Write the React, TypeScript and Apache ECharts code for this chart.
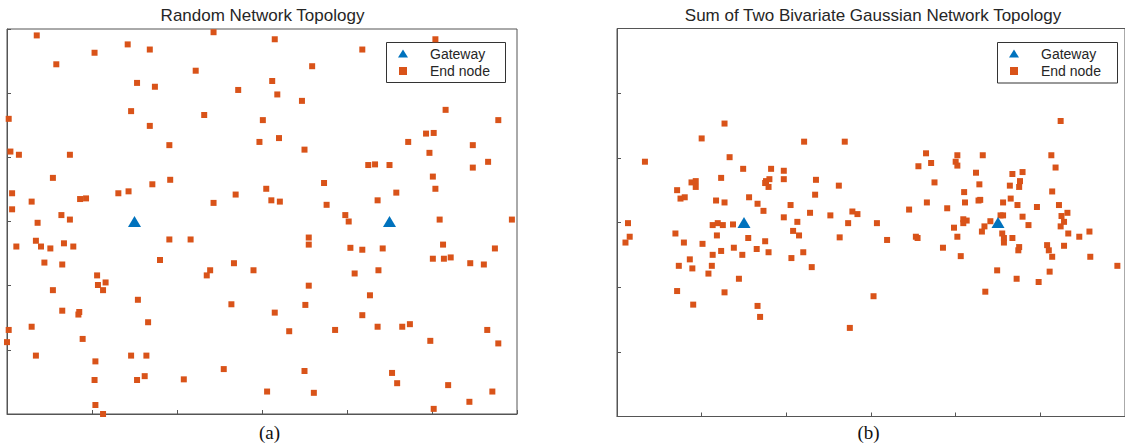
import React, { useEffect, useRef } from "react";
import * as echarts from "echarts";

const AXIS_MIN = 0;
const AXIS_MAX = 6;
const AXIS_STEP = 1;

const panelTitles = ["Random Network Topology", "Sum of Two Bivariate Gaussian Network Topology"];
const panelCaptions = ["(a)", "(b)"];
const legendNames = ["Gateway", "End node"];

const randomGateways = [[1.5, 3], [4.5, 3]];
const randomEndNodes = [
  [0.35, 5.9], [2.43, 5.95], [3.15, 5.84], [1.42, 5.76], [1.68, 5.68], [1.03, 5.63], [0.58, 5.45], [2.22, 5.35],
  [3.12, 5.19], [1.53, 5.16], [1.74, 5.1], [2.72, 5.05], [3.18, 4.98], [1.46, 4.72], [2.32, 4.66], [0.02, 4.6],
  [3.01, 4.58], [1.68, 4.49], [2.97, 4.24], [3.2, 4.3], [1.91, 4.19], [0.04, 4.09], [0.14, 4.04], [0.74, 4.04],
  [0.54, 3.68], [1.92, 3.65], [1.71, 3.58], [0.06, 3.44], [1.31, 3.44], [1.43, 3.47], [2.69, 3.42], [3.05, 3.51],
  [0.29, 3.31], [0.86, 3.35], [0.93, 3.36], [2.43, 3.29], [3.11, 3.33], [3.21, 3.31], [0.06, 3.19], [0.64, 3.1],
  [0.74, 3.03], [0.36, 2.98], [5.04, 5.84], [4.18, 5.68], [3.59, 5.42], [3.47, 4.88], [5.16, 4.74], [5.78, 4.58],
  [4.93, 4.37], [5.02, 4.38], [4.72, 4.24], [5.48, 4.19], [3.5, 4.12], [4.97, 4.07], [5.66, 3.93], [5.48, 3.84],
  [4.25, 3.88], [4.33, 3.89], [4.5, 3.88], [5.01, 3.7], [3.73, 3.6], [5.04, 3.51], [4.58, 3.45], [4.36, 3.33],
  [3.76, 3.26], [3.98, 3.1], [4.02, 3.0], [5.09, 3.03], [5.94, 3.03], [0.34, 2.7], [0.11, 2.61], [0.4, 2.61],
  [0.51, 2.58], [0.67, 2.66], [0.78, 2.61], [1.91, 2.72], [2.16, 2.72], [1.8, 2.4], [0.44, 2.36], [0.65, 2.33],
  [2.39, 2.24], [2.35, 2.16], [2.67, 2.35], [2.9, 2.24], [1.06, 2.16], [1.07, 2.01], [1.16, 2.05], [1.13, 1.93],
  [0.54, 1.93], [1.54, 1.78], [2.64, 1.71], [3.15, 1.58], [0.65, 1.61], [0.85, 1.59], [0.84, 1.55], [1.66, 1.43],
  [0.29, 1.36], [0.02, 1.31], [0.0, 1.12], [0.89, 1.17], [0.34, 0.91], [1.46, 0.91], [1.64, 0.91], [1.04, 0.82],
  [1.03, 0.53], [1.53, 0.53], [1.62, 0.59], [2.08, 0.54], [2.55, 0.7], [3.06, 0.35], [1.04, 0.14], [1.13, 0.0],
  [3.55, 2.75], [3.55, 2.64], [4.04, 2.59], [4.18, 2.56], [4.42, 2.58], [5.13, 2.64], [5.74, 2.58], [5.01, 2.42],
  [5.14, 2.42], [5.22, 2.44], [5.45, 2.35], [5.61, 2.33], [4.09, 2.19], [4.37, 2.24], [3.55, 2.0], [4.27, 1.85],
  [3.51, 1.7], [4.18, 1.54], [3.32, 1.29], [3.86, 1.31], [4.36, 1.36], [4.65, 1.36], [4.74, 1.4], [5.65, 1.31],
  [4.98, 1.14], [5.78, 1.1], [3.5, 0.67], [4.53, 0.64], [4.59, 0.48], [5.19, 0.45], [5.71, 0.35], [5.44, 0.19],
  [3.61, 0.33], [5.02, 0.08],
];

const gaussianGateways = [[1.5, 3], [4.5, 3]];
const gaussianClusterA = [
  [1.27, 4.53], [1.0, 4.3], [2.21, 4.25], [2.69, 4.25], [0.33, 3.94], [1.33, 4.01], [1.49, 3.83], [1.82, 3.83],
  [1.97, 3.8], [1.23, 3.69], [1.97, 3.67], [2.35, 3.66], [0.88, 3.62], [0.93, 3.64], [0.93, 3.55], [1.76, 3.64],
  [1.8, 3.67], [1.75, 3.61], [1.79, 3.55], [2.62, 3.57], [0.71, 3.5], [0.75, 3.37], [0.8, 3.39], [2.34, 3.43],
  [1.17, 3.34], [1.27, 3.31], [1.56, 3.39], [1.66, 3.29], [1.73, 3.18], [2.05, 3.27], [2.28, 3.15], [2.52, 3.11],
  [2.78, 3.17], [2.84, 3.13], [1.97, 3.08], [0.13, 2.99], [0.15, 2.78], [0.1, 2.69], [0.69, 2.83], [0.79, 2.69],
  [1.01, 2.67], [1.13, 2.96], [1.19, 2.99], [1.25, 2.96], [1.37, 2.97], [1.18, 2.8], [1.55, 2.76], [1.75, 2.71],
  [2.13, 3.01], [2.08, 2.87], [2.15, 2.8], [2.73, 2.99], [2.63, 2.77], [1.13, 2.5], [1.23, 2.56], [1.38, 2.61],
  [1.48, 2.5], [1.65, 2.59], [1.79, 2.54], [2.2, 2.54], [2.06, 2.45], [0.86, 2.43], [0.73, 2.33], [0.89, 2.29],
  [1.12, 2.33], [1.08, 2.21], [2.3, 2.31], [1.44, 2.13], [0.71, 1.94], [1.27, 1.92], [0.9, 1.73], [1.66, 1.71],
  [1.69, 1.54], [2.75, 1.37],
];
const gaussianClusterB = [
  [5.24, 4.57], [3.65, 4.07], [4.02, 4.04], [4.32, 4.04], [5.13, 4.04], [3.56, 3.87], [3.71, 3.92], [4.0, 3.94],
  [4.02, 3.88], [5.18, 3.85], [4.24, 3.77], [4.67, 3.75], [4.79, 3.78], [3.75, 3.62], [4.28, 3.59], [4.76, 3.64],
  [4.64, 3.57], [4.75, 3.55], [5.14, 3.48], [4.1, 3.47], [3.66, 3.31], [4.11, 3.31], [4.27, 3.34], [4.29, 3.35],
  [4.56, 3.31], [4.65, 3.37], [4.73, 3.27], [4.96, 3.24], [5.22, 3.27], [3.45, 3.2], [3.9, 3.22], [5.32, 3.15],
  [5.25, 3.1], [4.79, 3.09], [4.53, 3.11], [4.56, 3.11], [4.09, 3.05], [4.13, 3.03], [4.09, 2.99], [4.41, 3.02],
  [3.07, 2.99], [3.19, 2.73], [3.53, 2.78], [3.55, 2.76], [3.98, 2.92], [4.02, 2.78], [3.85, 2.61], [4.06, 2.48],
  [4.34, 2.94], [4.31, 2.86], [4.55, 2.83], [4.57, 2.76], [4.57, 2.69], [4.67, 2.76], [4.86, 2.96], [4.75, 2.62],
  [4.74, 2.57], [5.08, 2.65], [5.1, 2.57], [5.14, 2.47], [5.28, 2.64], [5.24, 2.94], [5.28, 3.01], [5.33, 2.83],
  [5.46, 2.78], [5.58, 2.86], [5.59, 2.47], [5.91, 2.33], [4.49, 2.26], [4.72, 2.13], [4.98, 2.08], [5.11, 2.24],
  [4.35, 1.93], [3.03, 1.86],
];

const GATEWAY_COLOR = "#0072BD";
const NODE_COLOR = "#D95319";
const AXIS_COLOR = "#555555";
const TEXT_COLOR = "#262626";
const SANS = "'Liberation Sans', Arial, sans-serif";
const SERIF = "'Liberation Serif', 'Times New Roman', serif";

const TRIANGLE_ICON = "path://M0,0M10,10M0,9L5,1L10,9Z";
const SQUARE_ICON = "path://M0,0M10,10M1,1L9,1L9,9L1,9Z";

function makeAxis(gridIndex: number) {
  return {
    gridIndex,
    type: "value",
    min: AXIS_MIN,
    max: AXIS_MAX,
    interval: AXIS_STEP,
    axisLine: { show: true, onZero: false, lineStyle: { color: AXIS_COLOR, width: 1 } },
    axisTick: { show: true, inside: true, length: 4, lineStyle: { color: AXIS_COLOR, width: 1 } },
    axisLabel: { show: false },
    splitLine: { show: false },
  };
}

function makeLegend(left: number) {
  return {
    data: [
      { name: legendNames[0], icon: TRIANGLE_ICON },
      { name: legendNames[1], icon: SQUARE_ICON },
    ],
    orient: "vertical",
    left,
    top: 46.5,
    itemWidth: 10,
    itemHeight: 10,
    itemGap: 3.5,
    padding: 0,
    selectedMode: false,
    textStyle: { fontFamily: SANS, fontSize: 14, color: TEXT_COLOR, padding: [0, 0, 0, 17] },
  };
}

function makeSeries(panel: number, gateways: number[][], nodes: number[][]) {
  return [
    {
      name: legendNames[1],
      type: "scatter",
      xAxisIndex: panel,
      yAxisIndex: panel,
      data: nodes,
      symbol: "rect",
      symbolSize: 6,
      clip: false,
      itemStyle: { color: NODE_COLOR, opacity: 1 },
      z: 2,
    },
    {
      name: legendNames[0],
      type: "scatter",
      xAxisIndex: panel,
      yAxisIndex: panel,
      data: gateways,
      symbol: "triangle",
      symbolSize: [13, 11],
      clip: false,
      itemStyle: { color: GATEWAY_COLOR, opacity: 1 },
      z: 3,
    },
  ];
}

export default function App() {
  const ref = useRef<HTMLDivElement>(null);

  useEffect(() => {
    if (!ref.current) return;
    const chart = echarts.init(ref.current, null, { renderer: "svg" });
    const option = {
      animation: false,
      backgroundColor: "#ffffff",
      grid: [
        { left: 7, top: 29, width: 510, height: 385, show: true, borderColor: AXIS_COLOR, borderWidth: 1, backgroundColor: "transparent" },
        { left: 617, top: 28.5, width: 513, height: 388, show: true, borderColor: AXIS_COLOR, borderWidth: 1, backgroundColor: "transparent" },
      ],
      xAxis: [makeAxis(0), makeAxis(1)],
      yAxis: [makeAxis(0), makeAxis(1)],
      legend: [makeLegend(398), makeLegend(1009)],
      graphic: [
        { type: "rect", shape: { x: 386.5, y: 42.5, width: 119, height: 40 }, style: { fill: "#fff", stroke: "#333", lineWidth: 1 }, z: 1 },
        { type: "rect", shape: { x: 997.5, y: 42.5, width: 120, height: 40.5 }, style: { fill: "#fff", stroke: "#333", lineWidth: 1 }, z: 1 },
        { type: "text", x: 262.5, y: 15, style: { text: panelTitles[0], fontFamily: SANS, fontSize: 17, fill: TEXT_COLOR, align: "center", verticalAlign: "middle" } },
        { type: "text", x: 873, y: 15, style: { text: panelTitles[1], fontFamily: SANS, fontSize: 17, fill: TEXT_COLOR, align: "center", verticalAlign: "middle" } },
        { type: "text", x: 269.5, y: 432, style: { text: panelCaptions[0], fontFamily: SERIF, fontSize: 19, fill: "#111", align: "center", verticalAlign: "middle" } },
        { type: "text", x: 868.5, y: 432, style: { text: panelCaptions[1], fontFamily: SERIF, fontSize: 19, fill: "#111", align: "center", verticalAlign: "middle" } },
      ],
      series: [
        ...makeSeries(0, randomGateways, randomEndNodes),
        ...makeSeries(1, gaussianGateways, [...gaussianClusterA, ...gaussianClusterB]),
      ],
    };
    chart.setOption(option as any);
    return () => chart.dispose();
  }, []);

  return (
    <div
      ref={ref}
      style={{ position: "absolute", left: 0, top: 0, width: 1125, height: 445, background: "#fff" }}
    />
  );
}
